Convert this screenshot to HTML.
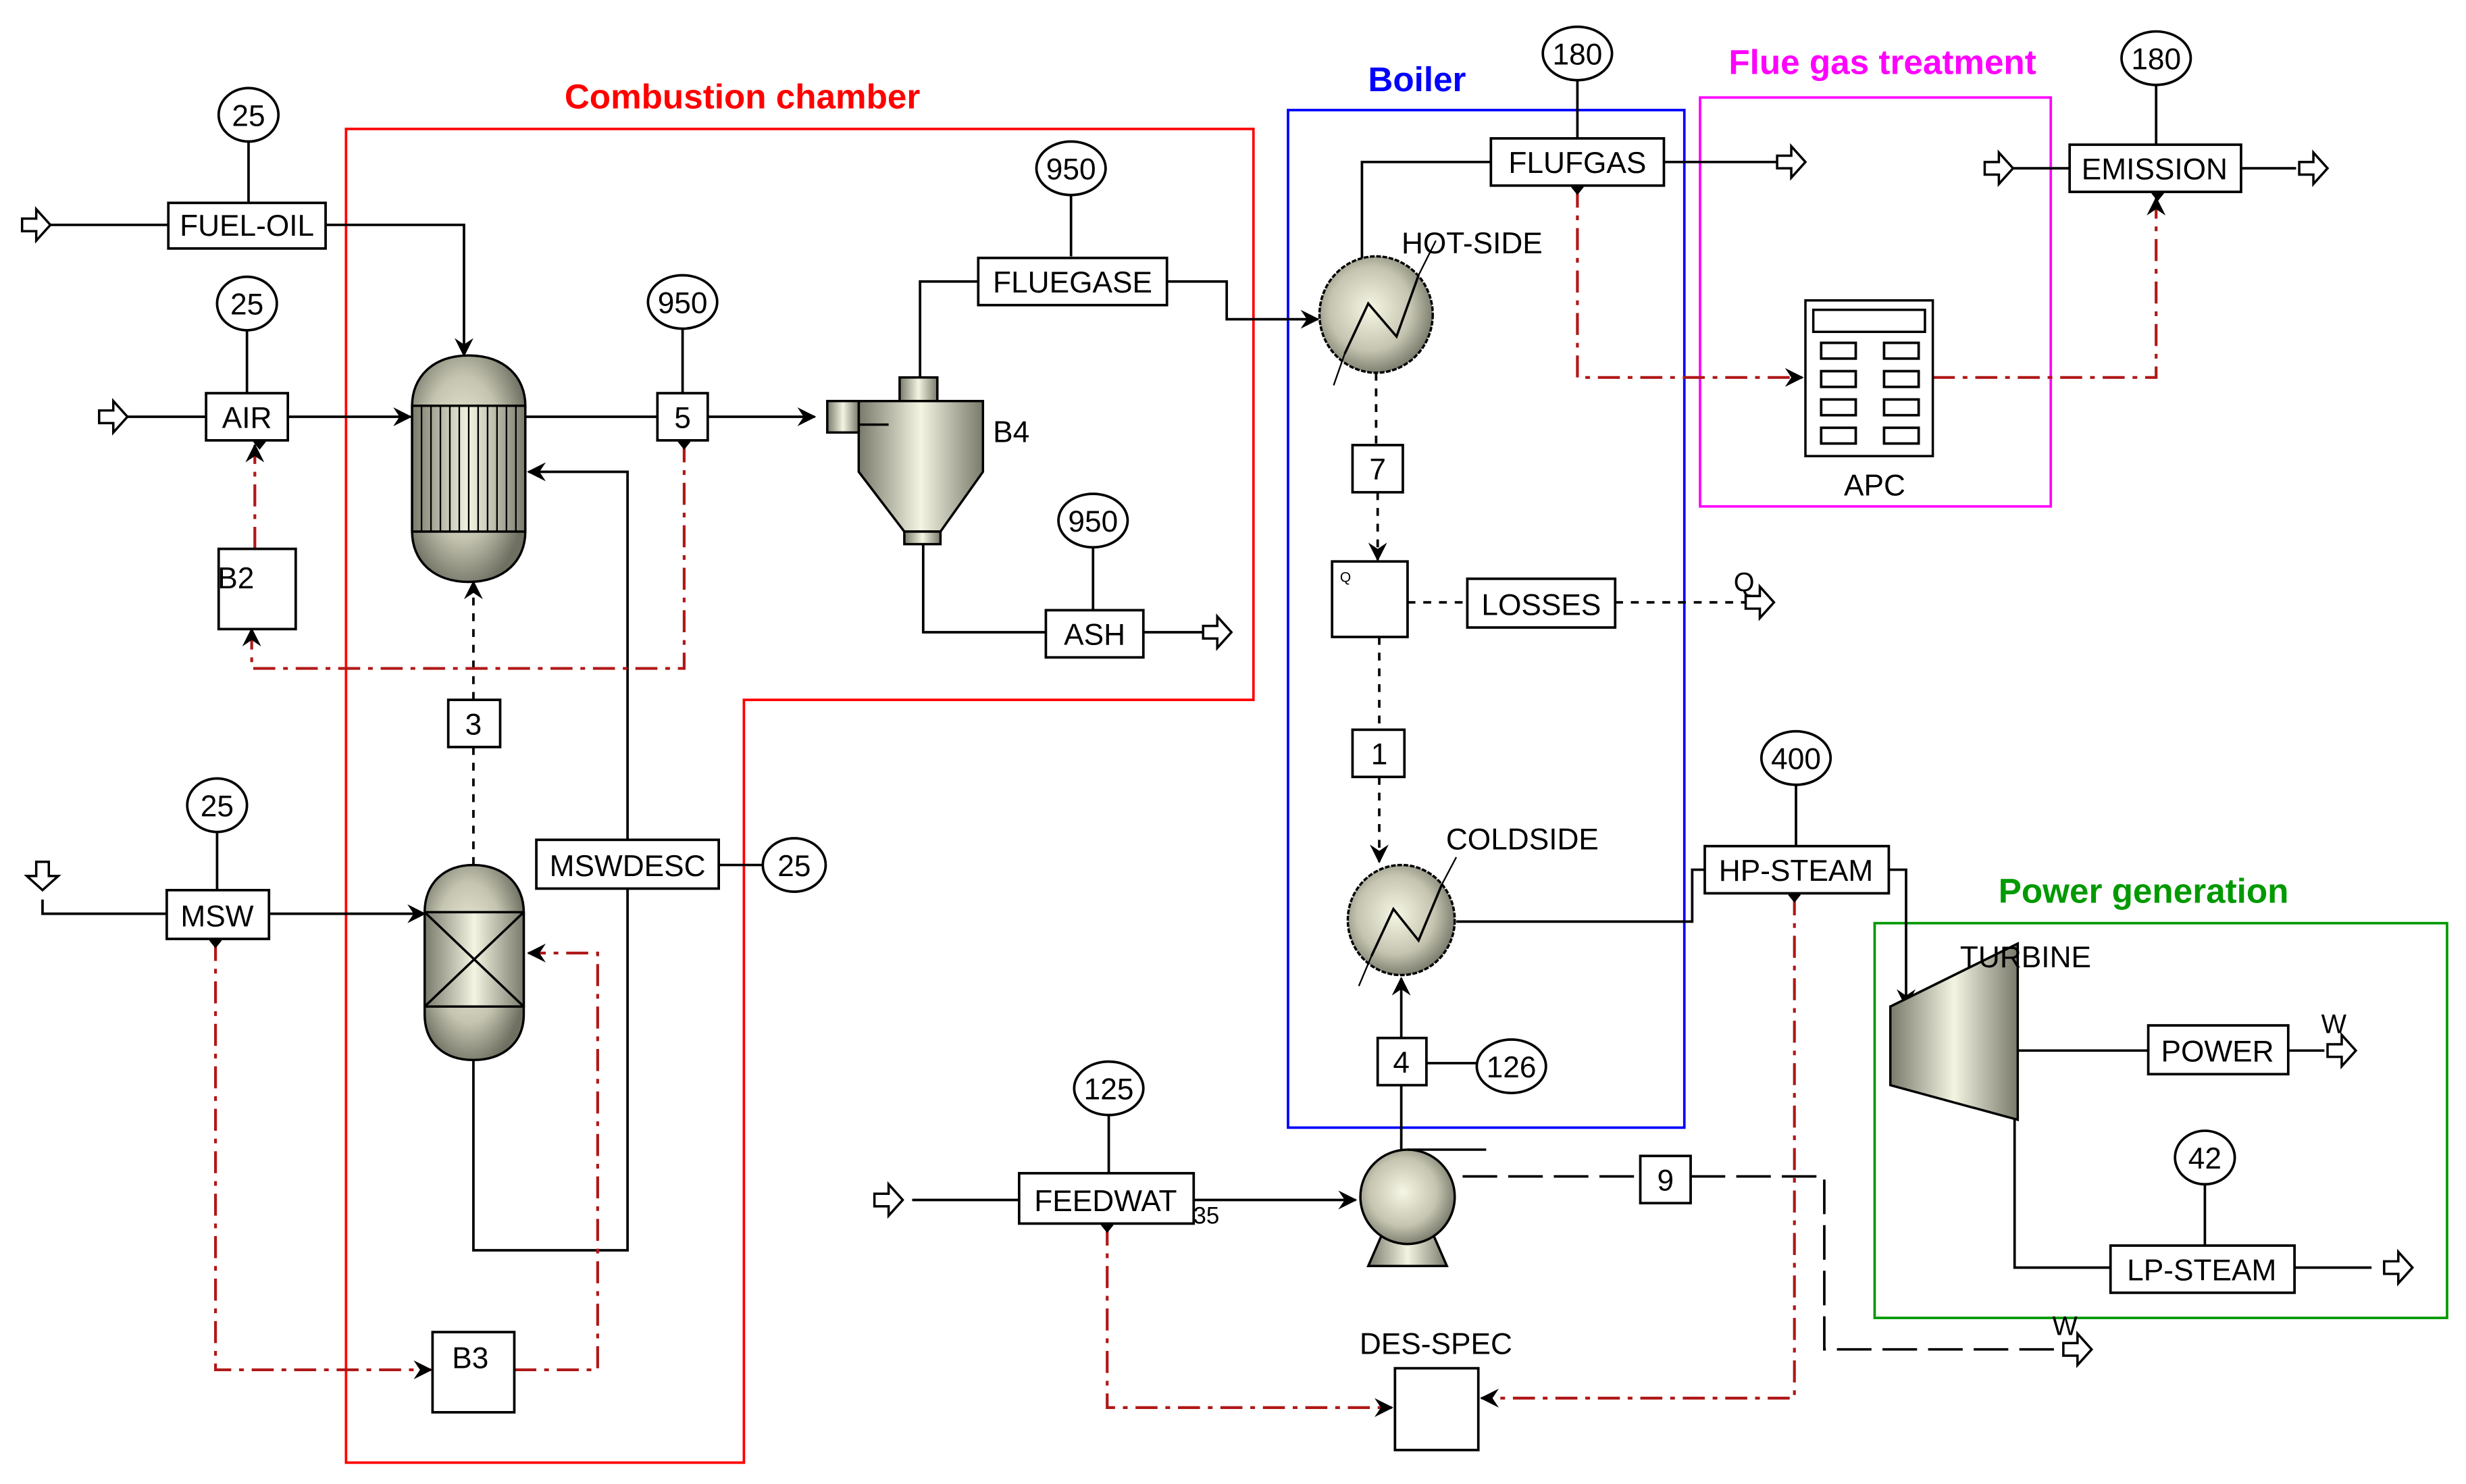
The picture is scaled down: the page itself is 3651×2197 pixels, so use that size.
<!DOCTYPE html>
<html><head><meta charset="utf-8"><style>html,body{margin:0;padding:0;background:#fff}svg{display:block}</style></head><body>
<svg xmlns="http://www.w3.org/2000/svg" width="3651" height="2197" viewBox="0 0 1568 943.6" font-family="'Liberation Sans', sans-serif">
<defs>
<marker id="a" viewBox="0 0 12 12" refX="11" refY="6" markerWidth="12" markerHeight="12" markerUnits="userSpaceOnUse" orient="auto"><path d="M0,0 L12,6 L0,12 L4,6 z" fill="#000"/></marker>
<marker id="d" viewBox="0 0 6 6" refX="3" refY="3" markerWidth="7" markerHeight="7" markerUnits="userSpaceOnUse" orient="auto"><path d="M3,0 L6,3 L3,6 L0,3 z" fill="#000"/></marker>
<radialGradient id="g" cx="0.45" cy="0.45" r="0.6"><stop offset="0" stop-color="#f6f6e4"/><stop offset="0.6" stop-color="#c4c4b0"/><stop offset="1" stop-color="#6f6f62"/></radialGradient>
<linearGradient id="h" x1="0" x2="1"><stop offset="0" stop-color="#7a7a6c"/><stop offset="0.5" stop-color="#f4f4e2"/><stop offset="1" stop-color="#7a7a6c"/></linearGradient>
</defs>
<g fill="none" stroke-width="1.6">
<!-- region boxes -->
<path d="M220,82 H797 V445 H473 V930 H220 Z" stroke="#f00"/>
<rect x="819" y="70" width="252" height="647" stroke="#00f"/>
<rect x="1081" y="62" width="223" height="260" stroke="#f0f"/>
<rect x="1192" y="587" width="364" height="251" stroke="#090"/>
</g>
<g font-weight="bold" font-size="22">
<text x="472" y="69" fill="#f00" text-anchor="middle">Combustion chamber</text>
<text x="901" y="58" fill="#00f" text-anchor="middle">Boiler</text>
<text x="1197" y="47" fill="#f0f" text-anchor="middle">Flue gas treatment</text>
<text x="1363" y="574" fill="#090" text-anchor="middle">Power generation</text>
</g>

<!-- solid black streams -->
<g fill="none" stroke="#000" stroke-width="1.6">
<path d="M30,143 H107"/><path d="M207,143 H295 V226" marker-end="url(#a)"/>
<path d="M78,265 H131"/><path d="M183,265 H261" marker-end="url(#a)"/>
<path d="M334,265 H418"/><path d="M450,265 H518" marker-end="url(#a)"/>
<path d="M585,240 V179 H622"/><path d="M742,179 H780 V203 H838" marker-end="url(#a)"/>
<path d="M587,346 V402 H665"/><path d="M727,402 H768"/>
<path d="M301,673 V795 H399 V300 H336" marker-end="url(#a)"/>
<path d="M457,550 H485"/>
<path d="M27,572 V581 H106"/><path d="M171,581 H270" marker-end="url(#a)"/>
<path d="M866,165 V103 H948"/><path d="M1058,103 H1130"/>
<path d="M1003,51 V88"/><path d="M1371,54 V92"/>
<path d="M1278,107 H1316"/><path d="M1425,107 H1460"/>
<path d="M926,586 H1076 V553 H1084"/><path d="M1201,553 H1212 V640" marker-end="url(#a)"/>
<path d="M1142,499 V538"/>
<path d="M891,730 V690"/><path d="M891,660 V622" marker-end="url(#a)"/><path d="M907,676 H941"/>
<path d="M580,763 H648"/><path d="M759,763 H862" marker-end="url(#a)"/><path d="M705,709 V746"/>
<path d="M1283,668 H1366"/><path d="M1455,668 H1478"/>
<path d="M1281,710 V806 H1342"/><path d="M1459,806 H1508"/><path d="M1402,753 V792"/>
<path d="M158,90 V129"/><path d="M157,210 V250"/><path d="M434,209 V250"/><path d="M681,124 V163"/><path d="M695,348 V388"/><path d="M138,529 V566"/>
</g>

<!-- black dashed -->
<g fill="none" stroke="#000" stroke-width="1.6" stroke-dasharray="5 5">
<path d="M301,445 V370" marker-end="url(#a)"/><path d="M301,475 V550"/>
<path d="M875,237 V283"/><path d="M876,313 V356" marker-end="url(#a)"/>
<path d="M895,383 H933"/><path d="M1027,383 H1110"/>
<path d="M877,405 V464"/><path d="M877,494 V548" marker-end="url(#a)"/>
</g>
<g fill="none" stroke="#000" stroke-width="1.6" stroke-dasharray="22 7">
<path d="M930,748 H1043"/><path d="M1075,748 H1160 V858 H1312"/>
</g>

<!-- red dash-dot -->
<g fill="none" stroke="#b01818" stroke-width="1.8" stroke-dasharray="14 5 3 5">
<path d="M435,280 V425 H160 V400" marker-end="url(#a)"/>
<path d="M162,349 V283" marker-end="url(#a)"/>
<path d="M137,597 V871 H274" marker-end="url(#a)"/>
<path d="M327,871 H380 V606 H336" marker-end="url(#a)"/>
<path d="M1003,118 V240 H1146" marker-end="url(#a)"/>
<path d="M1229,240 H1371 V126" marker-end="url(#a)"/>
<path d="M1141,568 V889 H942" marker-end="url(#a)"/>
<path d="M704,778 V895 H885" marker-end="url(#a)"/>
</g>
<g fill="#000"><path d="M435,276 l4,5 -4,5 -4,-5z"/><path d="M137,593 l4,5 -4,5 -4,-5z"/><path d="M1003,114 l4,5 -4,5 -4,-5z"/><path d="M1141,564 l4,5 -4,5 -4,-5z"/><path d="M704,774 l4,5 -4,5 -4,-5z"/><path d="M165,276 l4,5 -4,5 -4,-5z"/><path d="M1372,118 l4,5 -4,5 -4,-5z"/></g>

<!-- open block arrows -->
<g fill="#fff" stroke="#000" stroke-width="1.5">
<path d="M14,139 h9 v-6 l9,10 -9,10 v-6 h-9z"/>
<path d="M63,261 h9 v-6 l9,10 -9,10 v-6 h-9z"/>
<path d="M765,398 h9 v-6 l9,10 -9,10 v-6 h-9z"/>
<path d="M23,548 v9 h-6 l10,9 10,-9 h-6 v-9z"/>
<path d="M1130,99 h9 v-6 l9,10 -9,10 v-6 h-9z"/>
<path d="M1262,103 h9 v-6 l9,10 -9,10 v-6 h-9z"/>
<path d="M1462,103 h9 v-6 l9,10 -9,10 v-6 h-9z"/>
<path d="M1110,379 h9 v-6 l9,10 -9,10 v-6 h-9z"/>
<path d="M556,759 h9 v-6 l9,10 -9,10 v-6 h-9z"/>
<path d="M1312,854 h9 v-6 l9,10 -9,10 v-6 h-9z"/>
<path d="M1480,664 h9 v-6 l9,10 -9,10 v-6 h-9z"/>
<path d="M1516,802 h9 v-6 l9,10 -9,10 v-6 h-9z"/>
</g>

<!-- equipment -->
<g stroke="#000" stroke-width="1.5">
<!-- reactor 1 -->
<path d="M262,258 C262,240 275,226 298,226 C321,226 334,240 334,258 V338 C334,356 321,370 298,370 C275,370 262,356 262,338 Z" fill="url(#g)"/>
<rect x="262" y="258" width="72" height="80" fill="url(#h)"/>
<path d="M268,258V338M274,258V338M280,258V338M286,258V338M292,258V338M298,258V338M304,258V338M310,258V338M316,258V338M322,258V338M328,258V338" stroke-width="1"/>
<!-- reactor 2 -->
<path d="M270,580 C270,562 282,550 301,550 C320,550 333,562 333,580 V645 C333,663 320,674 301,674 C282,674 270,663 270,645 Z" fill="url(#g)"/>
<rect x="270" y="580" width="63" height="60" fill="url(#h)"/>
<path d="M270,580 L333,640 M333,580 L270,640" fill="none"/>
<!-- cyclone -->
<rect x="572" y="240" width="24" height="15" fill="url(#h)"/>
<path d="M546,255 H625 V300 L598,338 H575 L546,300 Z" fill="url(#h)"/>
<rect x="575" y="338" width="23" height="8" fill="url(#h)"/>
<rect x="526" y="255" width="20" height="20" fill="url(#h)"/>
<path d="M546,270 H565" fill="none"/>
<!-- heat exchangers -->
<ellipse cx="875" cy="200" rx="36" ry="37" fill="url(#g)" stroke-dasharray="3 1"/>
<path d="M855,225 L870,193 L888,214 L902,175" fill="none"/><path d="M848,245 L855,225 M902,175 L913,153" fill="none" stroke-width="1"/>
<ellipse cx="891" cy="585" rx="34" ry="35" fill="url(#g)" stroke-dasharray="3 1"/>
<path d="M872,608 L886,578 L902,598 L917,562" fill="none"/><path d="M864,627 L872,608 M917,562 L926,545" fill="none" stroke-width="1"/>
<!-- pump -->
<path d="M870,805 L880,782 H910 L920,805 Z" fill="url(#h)"/>
<circle cx="895" cy="761" r="30" fill="url(#g)"/>
<path d="M895,731 H945 M891,731 v-6" fill="none"/>
<!-- turbine -->
<path d="M1202,640 L1283,600 V712 L1202,690 Z" fill="url(#h)"/>
<!-- APC -->
<rect x="1148" y="191" width="81" height="99" fill="#fff"/>
<rect x="1153" y="197" width="71" height="14" fill="#fff"/>
<g fill="#fff" stroke-width="1.6"><rect x="1158" y="218" width="22" height="10"/><rect x="1198" y="218" width="22" height="10"/><rect x="1158" y="236" width="22" height="10"/><rect x="1198" y="236" width="22" height="10"/><rect x="1158" y="254" width="22" height="10"/><rect x="1198" y="254" width="22" height="10"/><rect x="1158" y="272" width="22" height="10"/><rect x="1198" y="272" width="22" height="10"/></g>
</g>

<!-- stream label boxes -->
<g fill="#fff" stroke="#000" stroke-width="1.6">
<rect x="107" y="129" width="100" height="29"/>
<rect x="131" y="250" width="52" height="30"/>
<rect x="418" y="250" width="32" height="30"/>
<rect x="622" y="164" width="120" height="30"/>
<rect x="665" y="388" width="62" height="30"/>
<rect x="139" y="349" width="49" height="51"/>
<rect x="285" y="445" width="33" height="30"/>
<rect x="341" y="534" width="116" height="31"/>
<rect x="106" y="566" width="65" height="31"/>
<rect x="275" y="847" width="52" height="51"/>
<rect x="948" y="88" width="110" height="30"/>
<rect x="1316" y="92" width="109" height="30"/>
<rect x="860" y="283" width="32" height="30"/>
<rect x="847" y="357" width="48" height="48"/>
<rect x="933" y="368" width="94" height="31"/>
<rect x="860" y="464" width="33" height="30"/>
<rect x="1084" y="538" width="117" height="30"/>
<rect x="876" y="660" width="31" height="30"/>
<rect x="648" y="746" width="111" height="32"/>
<rect x="1043" y="735" width="32" height="30"/>
<rect x="887" y="870" width="53" height="52"/>
<rect x="1366" y="652" width="89" height="31"/>
<rect x="1342" y="792" width="117" height="30"/>
<ellipse cx="158" cy="73" rx="19" ry="17"/><ellipse cx="157" cy="193" rx="19" ry="17"/>
<ellipse cx="434" cy="192" rx="22" ry="17"/><ellipse cx="681" cy="107" rx="22" ry="17"/>
<ellipse cx="695" cy="331" rx="22" ry="17"/><ellipse cx="138" cy="512" rx="19" ry="17"/>
<ellipse cx="505" cy="550" rx="20" ry="17"/><ellipse cx="1003" cy="34" rx="22" ry="17"/>
<ellipse cx="1371" cy="37" rx="22" ry="17"/><ellipse cx="1142" cy="482" rx="22" ry="17"/>
<ellipse cx="961" cy="678" rx="22" ry="17"/><ellipse cx="705" cy="692" rx="22" ry="17"/>
<ellipse cx="1402" cy="736" rx="19" ry="17"/>
</g>

<g font-size="19" fill="#000" text-anchor="middle">
<text x="157" y="150">FUEL-OIL</text><text x="157" y="272">AIR</text><text x="434" y="272">5</text>
<text x="682" y="186">FLUEGASE</text><text x="696" y="410">ASH</text><text x="301" y="467">3</text>
<text x="399" y="557">MSWDESC</text><text x="138" y="589">MSW</text>
<text x="1003" y="110">FLUFGAS</text><text x="1370" y="114">EMISSION</text>
<text x="876" y="305">7</text><text x="980" y="391">LOSSES</text><text x="877" y="486">1</text>
<text x="1142" y="560">HP-STEAM</text><text x="891" y="682">4</text><text x="703" y="770">FEEDWAT</text>
<text x="1059" y="757">9</text><text x="1410" y="675">POWER</text><text x="1400" y="814">LP-STEAM</text>
<text x="158" y="80">25</text><text x="157" y="200">25</text><text x="434" y="199">950</text><text x="681" y="114">950</text>
<text x="695" y="338">950</text><text x="138" y="519">25</text><text x="505" y="557">25</text><text x="1003" y="41">180</text>
<text x="1371" y="44">180</text><text x="1142" y="489">400</text><text x="961" y="685">126</text><text x="705" y="699">125</text>
<text x="1402" y="743">42</text>
<text x="150" y="374">B2</text><text x="299" y="870">B3</text>
<text x="936" y="161">HOT-SIDE</text><text x="968" y="540">COLDSIDE</text><text x="643" y="281">B4</text>
<text x="1192" y="315">APC</text><text x="1288" y="615">TURBINE</text><text x="913" y="861">DES-SPEC</text>
<text x="1109" y="376" font-size="17">Q</text><text x="1484" y="657" font-size="17">W</text><text x="1313" y="849" font-size="17">W</text>
<text x="767" y="778" font-size="15">35</text>
<text x="852" y="370" font-size="9" text-anchor="start">Q</text>
</g>
</svg>
</body></html>
